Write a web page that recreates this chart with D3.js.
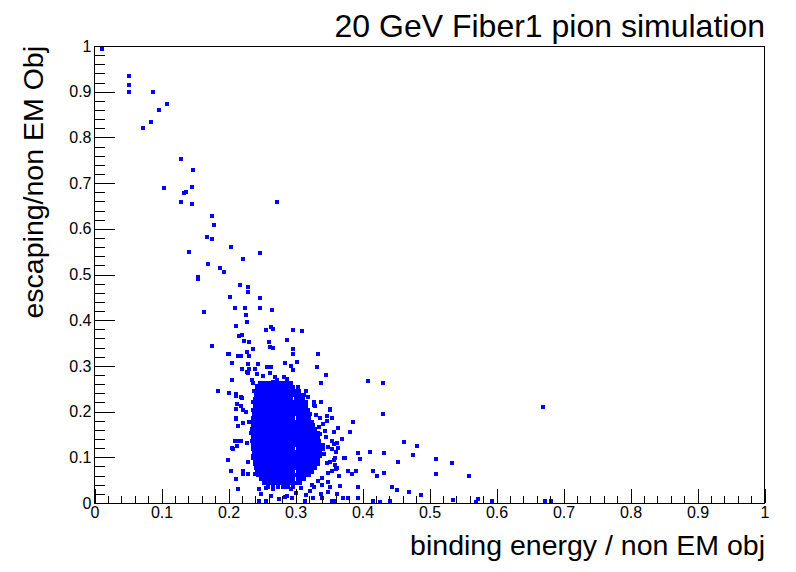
<!DOCTYPE html>
<html>
<head>
<meta charset="utf-8">
<script src="https://cdn.jsdelivr.net/npm/d3@7"></script>
<style>
  html, body { margin: 0; padding: 0; background: #fff; }
  svg { display: block; font-family: "Liberation Sans", Arial, Helvetica, sans-serif; }
</style>
</head>
<body>
<svg id="chart" width="796" height="572"></svg>
<script>
// ---------- data ----------
const chartTitle = "20 GeV Fiber1 pion simulation";
const xTitle = "binding energy / non EM obj";
const yTitle = "escaping/non EM Obj";
const majorTicks = [0, 0.1, 0.2, 0.3, 0.4, 0.5, 0.6, 0.7, 0.8, 0.9, 1];
const tickLabels = ["0", "0.1", "0.2", "0.3", "0.4", "0.5", "0.6", "0.7", "0.8", "0.9", "1"];

// sparse upper tail, [x, y]
const upperTail = [
  [0.011,0.994],[0.051,0.935],[0.052,0.915],[0.051,0.900],[0.087,0.900],[0.108,0.874],[0.096,0.861],
  [0.084,0.834],[0.072,0.821],[0.129,0.753],[0.147,0.729],[0.103,0.690],[0.145,0.692],[0.136,0.681],
  [0.133,0.679],[0.129,0.659],[0.145,0.655],[0.272,0.659],[0.175,0.629],[0.178,0.609],[0.168,0.583],
  [0.175,0.578],[0.203,0.561],[0.141,0.550],[0.247,0.548],[0.221,0.535],[0.170,0.524],[0.188,0.515],
  [0.193,0.506],[0.154,0.495],[0.154,0.491],[0.217,0.478],[0.229,0.473],[0.229,0.462],[0.202,0.451],
  [0.247,0.449],[0.209,0.427],[0.224,0.427],[0.247,0.427],[0.265,0.423],[0.163,0.417],[0.226,0.412]
];

// medium-density band above and left of the core, [x, y]
const leftHalo = [
  [0.227,0.397],[0.211,0.388],[0.263,0.386],[0.266,0.381],[0.256,0.379],[0.297,0.379],[0.309,0.377],
  [0.220,0.368],[0.215,0.366],[0.288,0.357],[0.223,0.355],[0.230,0.353],[0.260,0.353],[0.176,0.344],
  [0.262,0.342],[0.266,0.340],[0.296,0.338],[0.236,0.338],[0.227,0.331],[0.200,0.327],[0.199,0.325],
  [0.214,0.322],[0.218,0.322],[0.230,0.322],[0.296,0.325],[0.333,0.325],[0.205,0.307],[0.229,0.305],
  [0.244,0.305],[0.284,0.307],[0.302,0.309],[0.294,0.300],[0.332,0.298],[0.257,0.298],[0.263,0.298],
  [0.220,0.294],[0.230,0.294],[0.239,0.294],[0.297,0.292],[0.229,0.285],[0.185,0.246],[0.227,0.287],
  [0.243,0.282],[0.251,0.278],[0.262,0.284],[0.269,0.275],[0.283,0.276],[0.235,0.269],[0.252,0.255],
  [0.267,0.265],[0.297,0.290],[0.205,0.269],[0.201,0.240],[0.211,0.239],[0.212,0.216],[0.218,0.233],
  [0.218,0.213],[0.221,0.204],[0.226,0.199],[0.211,0.184],[0.214,0.169],[0.221,0.174],[0.231,0.177],
  [0.209,0.136],[0.214,0.136],[0.219,0.135],[0.206,0.118],[0.212,0.125],[0.227,0.131],[0.199,0.093],
  [0.229,0.090],[0.236,0.098],[0.204,0.071],[0.211,0.053],[0.222,0.071],[0.221,0.063],[0.229,0.064],
  [0.239,0.064],[0.214,0.031],[0.246,0.031],[0.249,0.020],[0.246,0.004],[0.256,0.004],[0.264,0.015],
  [0.256,0.032],[0.266,0.031],[0.274,0.043],[0.285,0.014],[0.275,0.009],[0.284,0.036],[0.205,0.120],
  [0.203,0.071],[0.211,0.235],[0.220,0.230],[0.242,0.255],[0.250,0.263],[0.272,0.269],[0.287,0.271],
  [0.303,0.249],[0.309,0.233],[0.327,0.222],[0.329,0.212],[0.211,0.205],[0.211,0.185],[0.237,0.262]
];

// right-hand fringe of the core, [x, y]
const rightHalo = [
  [0.346,0.281],[0.338,0.262],[0.315,0.246],[0.338,0.220],[0.328,0.215],[0.330,0.193],[0.351,0.204],
  [0.355,0.186],[0.347,0.180],[0.347,0.190],[0.386,0.178],[0.363,0.165],[0.381,0.156],[0.335,0.167],
  [0.344,0.158],[0.337,0.150],[0.369,0.139],[0.354,0.136],[0.362,0.132],[0.364,0.120],[0.349,0.123],
  [0.374,0.099],[0.359,0.099],[0.362,0.077],[0.378,0.071],[0.384,0.064],[0.349,0.066],[0.365,0.059],
  [0.339,0.055],[0.349,0.047],[0.366,0.038],[0.339,0.039],[0.328,0.034],[0.349,0.024],[0.362,0.020],
  [0.338,0.020],[0.322,0.027],[0.315,0.018],[0.295,0.010],[0.326,0.010],[0.339,0.010],[0.354,0.005],
  [0.371,0.010],[0.378,0.010],[0.314,0.005],[0.287,0.015],[0.308,0.032],[0.352,0.205],[0.357,0.155],
  [0.358,0.130],[0.355,0.118],[0.361,0.112],[0.358,0.095],[0.352,0.090],[0.359,0.083],[0.354,0.070],
  [0.361,0.075],[0.351,0.035],[0.357,0.005],[0.345,0.145],[0.343,0.108],[0.347,0.088],[0.341,0.128],
  [0.336,0.185],[0.341,0.172],[0.325,0.040],[0.333,0.048],[0.300,0.022],[0.293,0.030],[0.318,0.231]
];

// long tail to the right, [x, y]
const rightTail = [
  [0.408,0.268],[0.430,0.263],[0.430,0.195],[0.669,0.209],[0.462,0.134],[0.481,0.125],[0.411,0.112],
  [0.394,0.110],[0.432,0.110],[0.476,0.106],[0.373,0.099],[0.396,0.097],[0.509,0.097],[0.453,0.090],
  [0.533,0.088],[0.391,0.069],[0.415,0.069],[0.432,0.066],[0.509,0.064],[0.421,0.058],[0.559,0.058],
  [0.394,0.034],[0.444,0.036],[0.451,0.029],[0.469,0.023],[0.488,0.018],[0.371,0.012],[0.394,0.012],
  [0.415,0.005],[0.426,0.003],[0.441,0.005],[0.535,0.007],[0.572,0.009],[0.569,0.003],[0.593,0.005],
  [0.672,0.005],[0.681,0.005]
];

// dense core: rows of [y, list of x values]
const coreRows = [
  [0.2620,[0.247,0.253,0.258,0.264,0.269,0.275,0.281,0.287,0.294]],
  [0.2536,[0.242,0.248,0.253,0.259,0.264,0.270,0.275,0.281,0.286,0.292,0.297,0.303]],
  [0.2452,[0.238,0.244,0.249,0.255,0.260,0.266,0.271,0.277,0.282,0.288,0.293,0.299,0.305]],
  [0.2368,[0.241,0.246,0.252,0.257,0.263,0.268,0.274,0.279,0.285,0.290,0.296,0.301,0.307,0.312]],
  [0.2284,[0.239,0.245,0.250,0.256,0.261,0.267,0.272,0.278,0.283,0.289,0.294,0.300,0.305,0.311]],
  [0.2200,[0.237,0.243,0.248,0.254,0.259,0.265,0.270,0.276,0.281,0.287,0.292,0.298,0.303,0.309,0.315]],
  [0.2116,[0.239,0.244,0.250,0.255,0.261,0.266,0.272,0.277,0.283,0.288,0.294,0.299,0.305,0.310,0.316]],
  [0.2032,[0.236,0.242,0.247,0.253,0.258,0.264,0.269,0.275,0.280,0.286,0.291,0.297,0.302,0.308,0.313,0.319]],
  [0.1948,[0.238,0.243,0.249,0.254,0.260,0.265,0.271,0.276,0.282,0.287,0.293,0.298,0.304,0.309,0.315,0.321]],
  [0.1864,[0.237,0.242,0.248,0.253,0.259,0.264,0.270,0.275,0.281,0.286,0.292,0.297,0.303,0.308,0.314,0.320]],
  [0.1780,[0.236,0.241,0.247,0.252,0.258,0.263,0.269,0.274,0.280,0.285,0.291,0.296,0.302,0.307,0.313,0.318,0.324]],
  [0.1696,[0.237,0.243,0.248,0.254,0.259,0.265,0.270,0.276,0.281,0.287,0.292,0.298,0.303,0.309,0.314,0.320,0.326]],
  [0.1612,[0.235,0.240,0.246,0.251,0.257,0.262,0.268,0.273,0.279,0.284,0.290,0.295,0.301,0.306,0.312,0.317,0.323,0.329]],
  [0.1528,[0.234,0.240,0.245,0.251,0.256,0.262,0.267,0.273,0.278,0.284,0.289,0.295,0.300,0.306,0.311,0.317,0.322,0.328,0.333]],
  [0.1444,[0.236,0.241,0.247,0.252,0.258,0.263,0.269,0.274,0.280,0.285,0.291,0.296,0.302,0.307,0.313,0.318,0.324,0.329,0.334]],
  [0.1360,[0.235,0.241,0.246,0.252,0.257,0.263,0.268,0.274,0.279,0.285,0.290,0.296,0.301,0.307,0.312,0.318,0.323,0.329,0.335]],
  [0.1276,[0.236,0.242,0.247,0.253,0.258,0.264,0.269,0.275,0.280,0.286,0.291,0.297,0.302,0.308,0.313,0.319,0.324,0.330,0.336]],
  [0.1192,[0.237,0.242,0.248,0.253,0.259,0.264,0.270,0.275,0.281,0.286,0.292,0.297,0.303,0.308,0.314,0.319,0.325,0.330,0.336,0.341]],
  [0.1108,[0.238,0.244,0.249,0.255,0.260,0.266,0.271,0.277,0.282,0.288,0.293,0.299,0.304,0.310,0.315,0.321,0.326,0.332,0.337]],
  [0.1024,[0.237,0.243,0.248,0.254,0.259,0.265,0.270,0.276,0.281,0.287,0.292,0.298,0.303,0.309,0.314,0.320,0.325,0.331,0.337]],
  [0.0940,[0.239,0.244,0.250,0.255,0.261,0.266,0.272,0.277,0.283,0.288,0.294,0.299,0.305,0.310,0.316,0.321,0.327,0.333]],
  [0.0856,[0.240,0.246,0.251,0.257,0.262,0.268,0.273,0.279,0.284,0.290,0.295,0.301,0.306,0.312,0.317,0.323,0.328,0.334]],
  [0.0772,[0.241,0.246,0.252,0.257,0.263,0.268,0.274,0.279,0.285,0.290,0.296,0.301,0.307,0.312,0.318,0.323,0.329]],
  [0.0688,[0.242,0.248,0.253,0.259,0.264,0.270,0.275,0.281,0.286,0.292,0.297,0.303,0.308,0.314,0.319,0.325]],
  [0.0604,[0.244,0.249,0.255,0.260,0.266,0.271,0.277,0.282,0.288,0.293,0.299,0.304,0.310,0.315,0.320]],
  [0.0520,[0.248,0.253,0.259,0.264,0.270,0.275,0.281,0.286,0.292,0.297,0.303,0.308,0.313]],
  [0.0436,[0.253,0.258,0.264,0.269,0.275,0.280,0.286,0.291,0.297,0.302,0.306]],
  [0.0352,[0.259,0.266,0.274,0.281,0.289,0.297]]
];

// ---------- drawing ----------
const svg = d3.select("#chart");
const W = 796, H = 572;
const margin = {left: 94.5, right: 31.5, top: 46, bottom: 69};
const x = d3.scaleLinear().domain([0, 1]).range([margin.left, W - margin.right]);
const y = d3.scaleLinear().domain([0, 1]).range([H - margin.bottom, margin.top]);

svg.append("rect").attr("width", W).attr("height", H).attr("fill", "#fff");

const corePoints = coreRows.flatMap(([yy, xs]) => xs.map(xx => [xx, yy]));
const points = [...corePoints, ...leftHalo, ...rightHalo, ...rightTail, ...upperTail];

svg.append("g").selectAll("rect")
  .data(points)
  .join("rect")
  .attr("x", d => Math.round(x(d[0]) - 2))
  .attr("y", d => Math.round(y(d[1]) - 2))
  .attr("width", 4)
  .attr("height", 4)
  .attr("fill", "#0000ff")
  .attr("shape-rendering", "crispEdges");

// frame
svg.append("rect")
  .attr("x", x(0)).attr("y", y(1))
  .attr("width", x(1) - x(0)).attr("height", y(0) - y(1))
  .attr("fill", "none").attr("stroke", "#000").attr("stroke-width", 1)
  .attr("shape-rendering", "crispEdges");

const minorTicks = d3.range(0, 51).map(i => i / 50).filter(v => !majorTicks.some(m => Math.abs(m - v) < 1e-9));
const fmt = d => tickLabels[majorTicks.indexOf(d)];

function styleAxis(g) {
  g.select(".domain").remove();
  g.attr("font-size", 16).attr("font-family", '"Liberation Sans", Arial, Helvetica, sans-serif');
  g.selectAll("line").attr("stroke", "#000").attr("shape-rendering", "crispEdges");
  g.selectAll("text").attr("font-size", 16).attr("fill", "#000");
}

// x axis
svg.append("g").attr("transform", `translate(0,${y(0)})`)
  .call(d3.axisBottom(x).tickValues(majorTicks).tickSize(-13.7).tickPadding(4).tickFormat(fmt))
  .call(styleAxis);
svg.append("g").attr("transform", `translate(0,${y(0)})`)
  .call(d3.axisBottom(x).tickValues(minorTicks).tickSize(-7).tickFormat(""))
  .call(styleAxis);

// y axis
svg.append("g").attr("transform", `translate(${x(0)},0)`)
  .call(d3.axisLeft(y).tickValues(majorTicks).tickSize(-20).tickPadding(3).tickFormat(fmt))
  .call(styleAxis);
svg.append("g").attr("transform", `translate(${x(0)},0)`)
  .call(d3.axisLeft(y).tickValues(minorTicks).tickSize(-10).tickFormat(""))
  .call(styleAxis);

// titles
svg.append("text")
  .attr("x", 765).attr("y", 37)
  .attr("text-anchor", "end")
  .attr("font-size", 32)
  .attr("fill", "#000")
  .text(chartTitle);

svg.append("text")
  .attr("x", 765).attr("y", 555)
  .attr("text-anchor", "end")
  .attr("font-size", 28.5)
  .attr("fill", "#000")
  .text(xTitle);

svg.append("text")
  .attr("transform", "translate(43,46) rotate(-90)")
  .attr("text-anchor", "end")
  .attr("font-size", 28.5)
  .attr("fill", "#000")
  .text(yTitle);
</script>
</body>
</html>
